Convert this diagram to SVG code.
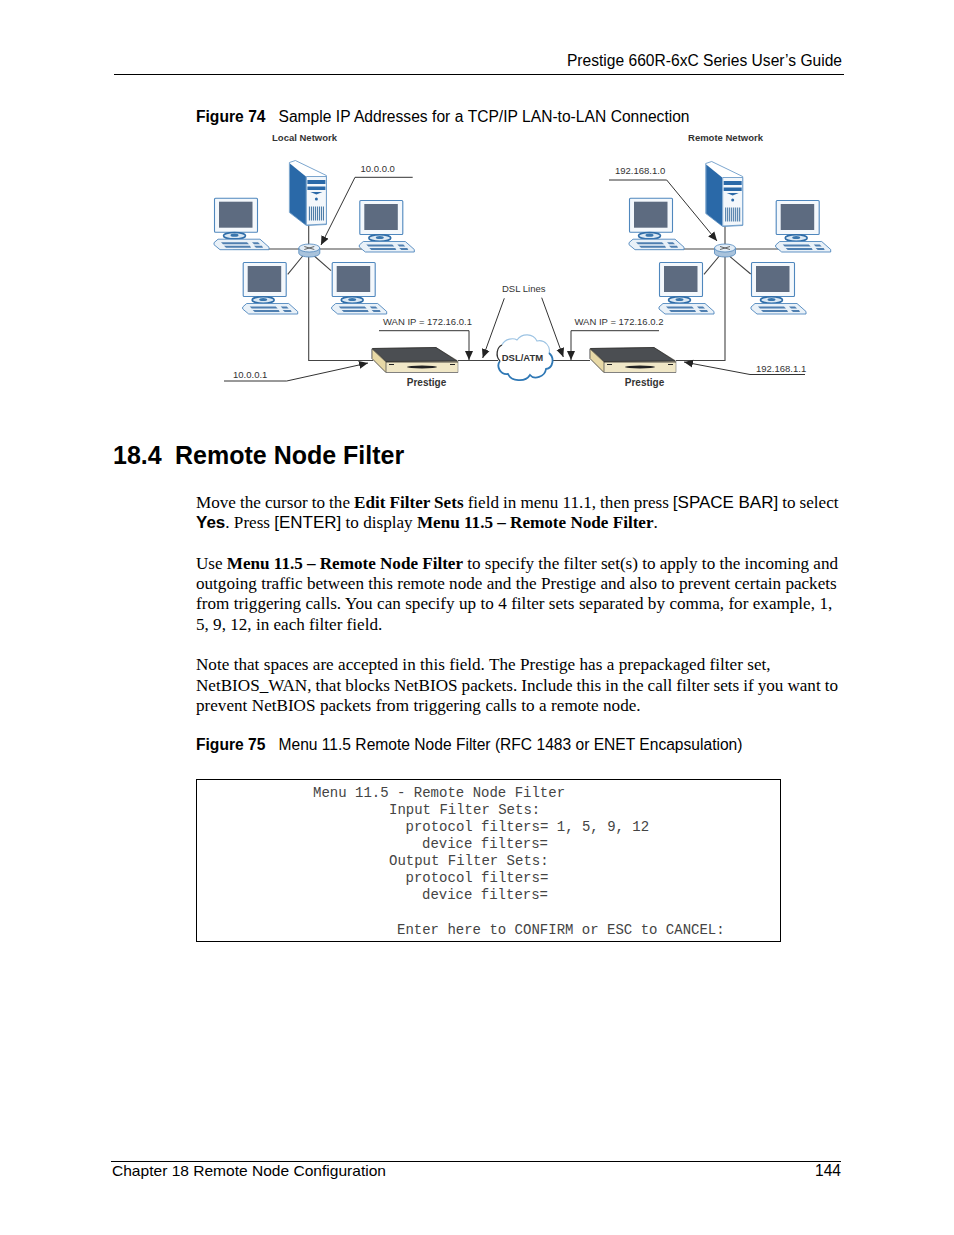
<svg xmlns="http://www.w3.org/2000/svg" xmlns:xlink="http://www.w3.org/1999/xlink" width="954" height="1235" viewBox="0 0 954 1235">
<style>
.s{font-family:"Liberation Sans",Arial,sans-serif;fill:#000}
.t{font-family:"Liberation Serif","Times New Roman",serif;font-size:17.12px;fill:#000}
.i{font-family:"Liberation Sans",Arial,sans-serif;font-size:17px}
.m{font-family:"Liberation Mono","Courier New",monospace;font-size:14px;fill:#444;white-space:pre}
.b{font-weight:bold}
.l{font-family:"Liberation Sans",Arial,sans-serif;font-size:9.5px;fill:#333}
.lb{font-family:"Liberation Sans",Arial,sans-serif;font-size:9.5px;font-weight:bold;fill:#333}
.p{font-size:10px}
.c{fill:none;stroke:#444;stroke-width:1.1}
.a{fill:none;stroke:#333;stroke-width:1;marker-end:url(#arr)}
.r{stroke:#000;stroke-width:1}
</style>
<defs>
<marker id="arr" markerWidth="10" markerHeight="9" refX="9" refY="4.500" orient="auto" markerUnits="userSpaceOnUse"><path d="M0 0.500L9 4.500L0 8.500Z" fill="#222"/></marker>
<g id="computer">
<rect x="0.500" y="0.500" width="43" height="34" rx="1" fill="#f4f8fc" stroke="#4f87bd" stroke-width="1.100"/>
<rect x="5" y="4" width="33.500" height="26" fill="#5d6b80"/>
<ellipse cx="20.500" cy="38" rx="11" ry="3.200" fill="#dbe8f3" stroke="#2f6da8" stroke-width="1.600"/>
<ellipse cx="20.500" cy="37.500" rx="4" ry="1.600" fill="#3a76ad"/>
<path d="M4 41.500H46L55 49.500V52H6L0 47V45Z" fill="#e9f1f8" stroke="#4f87bd" stroke-width="0.900"/>
<path d="M7 44.500H33L35 46.500H9ZM10 48H36L37 50H12ZM38 44.500H44L46 46.500H40ZM40 48H48L49 50H42Z" fill="#4f7fb0"/>
</g>
<g id="server">
<path d="M0 2L6 0L37 15V64L17 65L0 52Z" fill="#fff" stroke="#5b8fc2" stroke-width="0.800"/>
<path d="M0.500 3L16.500 16V64.500L0.500 52Z" fill="#2a69a8"/>
<path d="M17 16H37V63.500L17 64.500Z" fill="#f3f7fb" stroke="#5b8fc2" stroke-width="0.800"/>
<rect x="18" y="19.500" width="18" height="4" fill="#2a69a8"/>
<rect x="18" y="26" width="18" height="3.500" fill="#2a69a8"/>
<path d="M21 31.500H33L27 34Z" fill="#2a69a8"/>
<circle cx="27" cy="38.500" r="1.500" fill="#2a69a8"/>
<path d="M20 46v14M22 46v14M24 46v14M26 46v14M28 46v14M30 46v14M32 46v14M34 46v14" stroke="#3c6f9f" stroke-width="1"/>
</g>
<g id="router">
<path d="M-10.500 -2.500V2.500C-10.500 5 -5 6.500 0 6.500S10.500 5 10.500 2.500V-2.500Z" fill="#a9c3dc" stroke="#4f87bd" stroke-width="0.800"/>
<ellipse cx="0" cy="-2.500" rx="10.500" ry="4" fill="#e3edf6" stroke="#4f87bd" stroke-width="0.800"/>
<path d="M-5 -4L5 -1M5 -4L-5 -1" stroke="#555" stroke-width="0.900"/>
</g>
<g id="prestige">
<path d="M0 1L64 0L86 13.500V25H14L0 11Z" fill="#f0e7c6" stroke="#777" stroke-width="0.600"/>
<path d="M0.500 1L64 0L85 13.500L14 14Z" fill="#4b4e52" stroke="#222" stroke-width="0.700"/>
<path d="M0 1.500L14 14.500V25L0 11Z" fill="#e8d9a6" stroke="#444" stroke-width="0.700"/>
<path d="M14 14.500H86" stroke="#222" stroke-width="0.800"/>
<ellipse cx="50" cy="19.500" rx="15" ry="1.500" fill="#222"/>
<path d="M17 17h5M78 17h5" stroke="#222" stroke-width="1"/>
<path d="M14 25H86" stroke="#777" stroke-width="0.800"/>
</g>
</defs>
<rect width="954" height="1235" fill="#fff"/>

<text class="s" x="842" y="66" text-anchor="end" font-size="15.600" id="header">Prestige 660R-6xC Series User’s Guide</text>
<line class="r" x1="114" y1="74.500" x2="844" y2="74.500"/>
<text class="s" x="196" y="122" font-size="15.600" word-spacing="0.150"><tspan class="b">Figure 74</tspan><tspan x="278.500">Sample IP Addresses for a TCP/IP LAN-to-LAN Connection</tspan></text>

<g id="connectors">
<path class="c" d="M308.700 225V360.500H373M458 360.500H498M550 360.500H590M676 360.500H725V225"/>
<path class="c" d="M233 249H299M320 249H362M650 249H715M736 249H780"/>
<path class="c" d="M287.700 274.300L302.700 256M314.300 256L331 270.700M704 274.300L719.300 256M730 256.700L750.700 274"/>
<path class="a" d="M412.700 177.300H355L321 245"/>
<path class="a" d="M609 180H666.700L717 241"/>
<path class="a" d="M224 381H286.700L368 363"/>
<path class="a" d="M805 374.500H750L684 362"/>
<path class="a" d="M379 330.700H469V360"/>
<path class="a" d="M659 330.700H571V360"/>
<path class="a" d="M504.300 298.300L482.700 358"/>
<path class="a" d="M541.700 297.700L563.300 357"/>
</g>

<g id="local-network">
<text class="lb" x="304.500" y="140.500" text-anchor="middle">Local Network</text>
<use id="pc1" xlink:href="#computer" x="214" y="197.700"/>
<use id="pc2" xlink:href="#computer" x="359.300" y="200"/>
<use id="pc3" xlink:href="#computer" x="242.700" y="262"/>
<use id="pc4" xlink:href="#computer" x="331.700" y="262"/>
<use id="server1" xlink:href="#server" x="289.400" y="160.500"/>
<use id="router1" xlink:href="#router" x="309.300" y="250.500"/>
<text class="l" x="360.500" y="171.500">10.0.0.0</text>
</g>
<g id="remote-network">
<text class="lb" x="725.500" y="140.500" text-anchor="middle">Remote Network</text>
<use id="pc5" xlink:href="#computer" x="629" y="197.700"/>
<use id="pc6" xlink:href="#computer" x="775.700" y="200"/>
<use id="pc7" xlink:href="#computer" x="659" y="262"/>
<use id="pc8" xlink:href="#computer" x="751" y="262"/>
<use id="server2" xlink:href="#server" x="705.700" y="161.500"/>
<use id="router2" xlink:href="#router" x="725" y="250.500"/>
<text class="l" x="615" y="173.500">192.168.1.0</text>
</g>
<g id="prestige-left">
<use xlink:href="#prestige" x="372" y="347.500"/>
<text class="lb p" x="426.500" y="386" text-anchor="middle">Prestige</text>
<text class="l" x="233" y="378">10.0.0.1</text>
<text class="l" x="383" y="324.500">WAN IP = 172.16.0.1</text>
</g>
<g id="prestige-right">
<use xlink:href="#prestige" x="590" y="347.500"/>
<text class="lb p" x="644.500" y="386" text-anchor="middle">Prestige</text>
<text class="l" x="756" y="372">192.168.1.1</text>
<text class="l" x="574.500" y="324.500">WAN IP = 172.16.0.2</text>
</g>
<g id="cloud">
<path d="M502 345C505 338 514 338 517 340C522 333 533 333 537 341C545 339 551 347 549 353C555 358 553 368 546 369C545 377 534 380 530 375C525 383 511 381 508 374C500 375 496 366 500 361C495 356 497 347 502 345Z" fill="#fff"/>
<path d="M502 345C505 338 514 338 517 340C522 333 533 333 537 341C545 339 551 347 549 353" fill="none" stroke="#9cc3e3" stroke-width="1.100"/>
<path d="M549 353C555 358 553 368 546 369C545 377 534 380 530 375C525 383 511 381 508 374C500 375 496 366 500 361" fill="none" stroke="#2f78b5" stroke-width="1.800"/>
<path d="M500 361C495 356 497 347 502 345" fill="none" stroke="#333" stroke-width="1.300"/>
<text class="lb" x="522.500" y="361" text-anchor="middle">DSL/ATM</text>
</g>
<text class="l" x="502" y="292">DSL Lines</text>

<text class="s b" x="113" y="464" font-size="25">18.4<tspan x="175">Remote Node Filter</tspan></text>

<g id="body">
<text class="t" x="196" y="508" word-spacing="-0.220">Move the cursor to the <tspan class="b">Edit Filter Sets</tspan> field in menu 11.1, then press <tspan class="i">[SPACE BAR]</tspan> to select</text>
<text class="t" x="196" y="528"><tspan class="i b">Yes</tspan>. Press <tspan class="i">[ENTER]</tspan> to display <tspan class="b">Menu 11.5 – Remote Node Filter</tspan>.</text>
<text class="t" x="196" y="569" word-spacing="-0.080">Use <tspan class="b">Menu 11.5 – Remote Node Filter</tspan> to specify the filter set(s) to apply to the incoming and</text>
<text class="t" x="196" y="589" word-spacing="0.040">outgoing traffic between this remote node and the Prestige and also to prevent certain packets</text>
<text class="t" x="196" y="609" word-spacing="0.120">from triggering calls. You can specify up to 4 filter sets separated by comma, for example, 1,</text>
<text class="t" x="196" y="630">5, 9, 12, in each filter field.</text>
<text class="t" x="196" y="670" word-spacing="0.140">Note that spaces are accepted in this field. The Prestige has a prepackaged filter set,</text>
<text class="t" x="196" y="691" word-spacing="-0.250">NetBIOS_WAN, that blocks NetBIOS packets. Include this in the call filter sets if you want to</text>
<text class="t" x="196" y="711" word-spacing="0.200">prevent NetBIOS packets from triggering calls to a remote node.</text>
</g>
<text class="s" x="196" y="750" font-size="15.600"><tspan class="b">Figure 75</tspan><tspan x="278.500">Menu 11.5 Remote Node Filter (RFC 1483 or ENET Encapsulation)</tspan></text>

<g id="menu-box">
<rect x="196.500" y="779.500" width="584" height="162" fill="#fff" stroke="#000" stroke-width="1"/>
<text class="m" x="313" y="796.500">Menu 11.5 - Remote Node Filter</text>
<text class="m" x="389" y="813.500">Input Filter Sets:</text>
<text class="m" x="405.500" y="830.500">protocol filters= 1, 5, 9, 12</text>
<text class="m" x="422" y="847.500">device filters=</text>
<text class="m" x="389" y="865">Output Filter Sets:</text>
<text class="m" x="405.500" y="882">protocol filters=</text>
<text class="m" x="422" y="899">device filters=</text>
<text class="m" x="397" y="933.500">Enter here to CONFIRM or ESC to CANCEL:</text>
</g>

<line class="r" x1="111" y1="1161.500" x2="841" y2="1161.500"/>
<text class="s" x="112" y="1176" font-size="15.550" id="footer">Chapter 18 Remote Node Configuration</text>
<text class="s" x="841" y="1176" font-size="15.600" text-anchor="end">144</text>
</svg>
